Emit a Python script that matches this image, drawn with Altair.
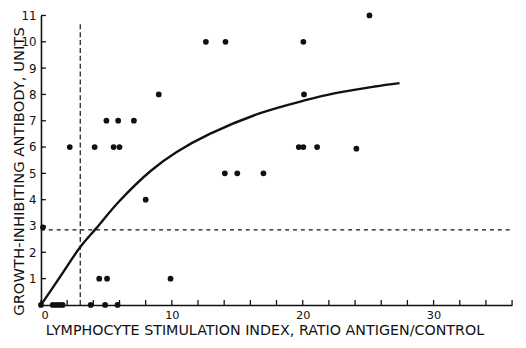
import altair as alt
import pandas as pd

# Scatter points (lymphocyte stimulation index, antibody units)
pt_x = [0.0, 0.9, 1.15, 1.4, 1.65, 3.8, 4.9, 5.85,
        4.45, 5.05, 9.9,
        0.15,
        8.0,
        14.05, 15.0, 17.0,
        2.2, 4.1, 5.55, 6.0, 19.7, 20.05, 21.1, 24.1,
        5.0, 5.9, 7.1,
        9.0, 20.1,
        12.6, 14.1, 20.05,
        25.1]
pt_y = [0, 0, 0, 0, 0, 0, 0, 0,
        1, 1, 1,
        2.95,
        4,
        5, 5, 5,
        6, 6, 6, 6, 6, 6, 6, 5.94,
        7, 7, 7,
        8, 8,
        10, 10, 10,
        11]

# Fitted curve
curve_x = [0, 1.5, 3.0, 4.2, 6.0, 8.4, 10.4, 12.9, 16.7, 20.2, 22.5, 25.5, 27.4]
curve_y = [0, 1.1, 2.2, 2.9, 3.95, 5.1, 5.82, 6.5, 7.28, 7.78, 8.05, 8.3, 8.43]

# Reference (dashed) lines
vline_x = [3.0]
vline_y = [0.0]
vline_y2 = [10.7]
hline_y = [2.85]
hline_x = [0.0]
hline_x2 = [36.0]

x_tick_vals = list(range(0, 37, 2))
y_tick_vals = list(range(1, 12))
x_label_vals = [0, 10, 20, 30]

FONT = "DejaVu Sans"
INK = "#111111"

xs = alt.Scale(domain=[0, 36], nice=False, zero=False)
ys = alt.Scale(domain=[0, 11], nice=False, zero=False)

pts = pd.DataFrame({"x": pt_x, "y": pt_y})
crv = pd.DataFrame({"x": curve_x, "y": curve_y})
vl = pd.DataFrame({"x": vline_x, "y": vline_y, "y2": vline_y2})
hl = pd.DataFrame({"y": hline_y, "x": hline_x, "x2": hline_x2})
xt = pd.DataFrame({"x": x_tick_vals})
yt = pd.DataFrame({"y": y_tick_vals})

x_axis = alt.Axis(
    values=x_label_vals, ticks=False, grid=False, domain=True,
    domainColor=INK, domainWidth=1.6,
    labelFont=FONT, labelFontSize=11.5, labelColor=INK,
    labelBaseline="alphabetic", labelPadding=14,
    title="LYMPHOCYTE STIMULATION INDEX, RATIO ANTIGEN/CONTROL",
    titleFont=FONT, titleFontSize=14.5, titleFontWeight="normal", titleColor=INK,
    titleBaseline="alphabetic", titleAlign="center", titleX=227, titleY=30.5,
)
y_axis = alt.Axis(
    values=y_tick_vals, ticks=False, grid=False, domain=True,
    domainColor=INK, domainWidth=1.6,
    labelFont=FONT, labelFontSize=12, labelColor=INK,
    labelAlign="right", labelBaseline="middle", labelPadding=5,
    title="GROWTH-INHIBITING ANTIBODY, UNITS",
    titleFont=FONT, titleFontSize=15, titleFontWeight="normal", titleColor=INK,
    titleAngle=270, titleBaseline="alphabetic", titleAlign="center",
    titleX=-18, titleY=158,
)

base_x = alt.X("x:Q", scale=xs, axis=x_axis)
base_y = alt.Y("y:Q", scale=ys, axis=y_axis)

points = alt.Chart(pts).mark_circle(size=34, color=INK, opacity=1).encode(x=base_x, y=base_y)
curve = alt.Chart(crv).mark_line(color=INK, strokeWidth=2.4, interpolate="catmull-rom").encode(x=base_x, y=base_y)
vline = alt.Chart(vl).mark_rule(color=INK, strokeWidth=1.2, strokeDash=[5, 3]).encode(
    x=base_x, y=base_y, y2="y2:Q")
hline = alt.Chart(hl).mark_rule(color=INK, strokeWidth=1.2, strokeDash=[4, 4]).encode(
    y=base_y, x=base_x, x2="x2:Q")
xticks = alt.Chart(xt).mark_rule(color=INK, strokeWidth=1.3).encode(
    x=base_x, y=alt.value(294), y2=alt.value(289))
yticks = alt.Chart(yt).mark_rule(color=INK, strokeWidth=1.3).encode(
    y=base_y, x=alt.value(0), x2=alt.value(5))

chart = alt.layer(hline, vline, curve, xticks, yticks, points).properties(
    width=478.5, height=294,
    autosize=alt.AutoSizeParams(type="none"),
    padding={"left": 33.5, "top": 5, "right": 6, "bottom": 33},
    background="white",
).configure_view(stroke=None)

chart.save("out.html", embed_options={"renderer": "svg", "actions": False})
